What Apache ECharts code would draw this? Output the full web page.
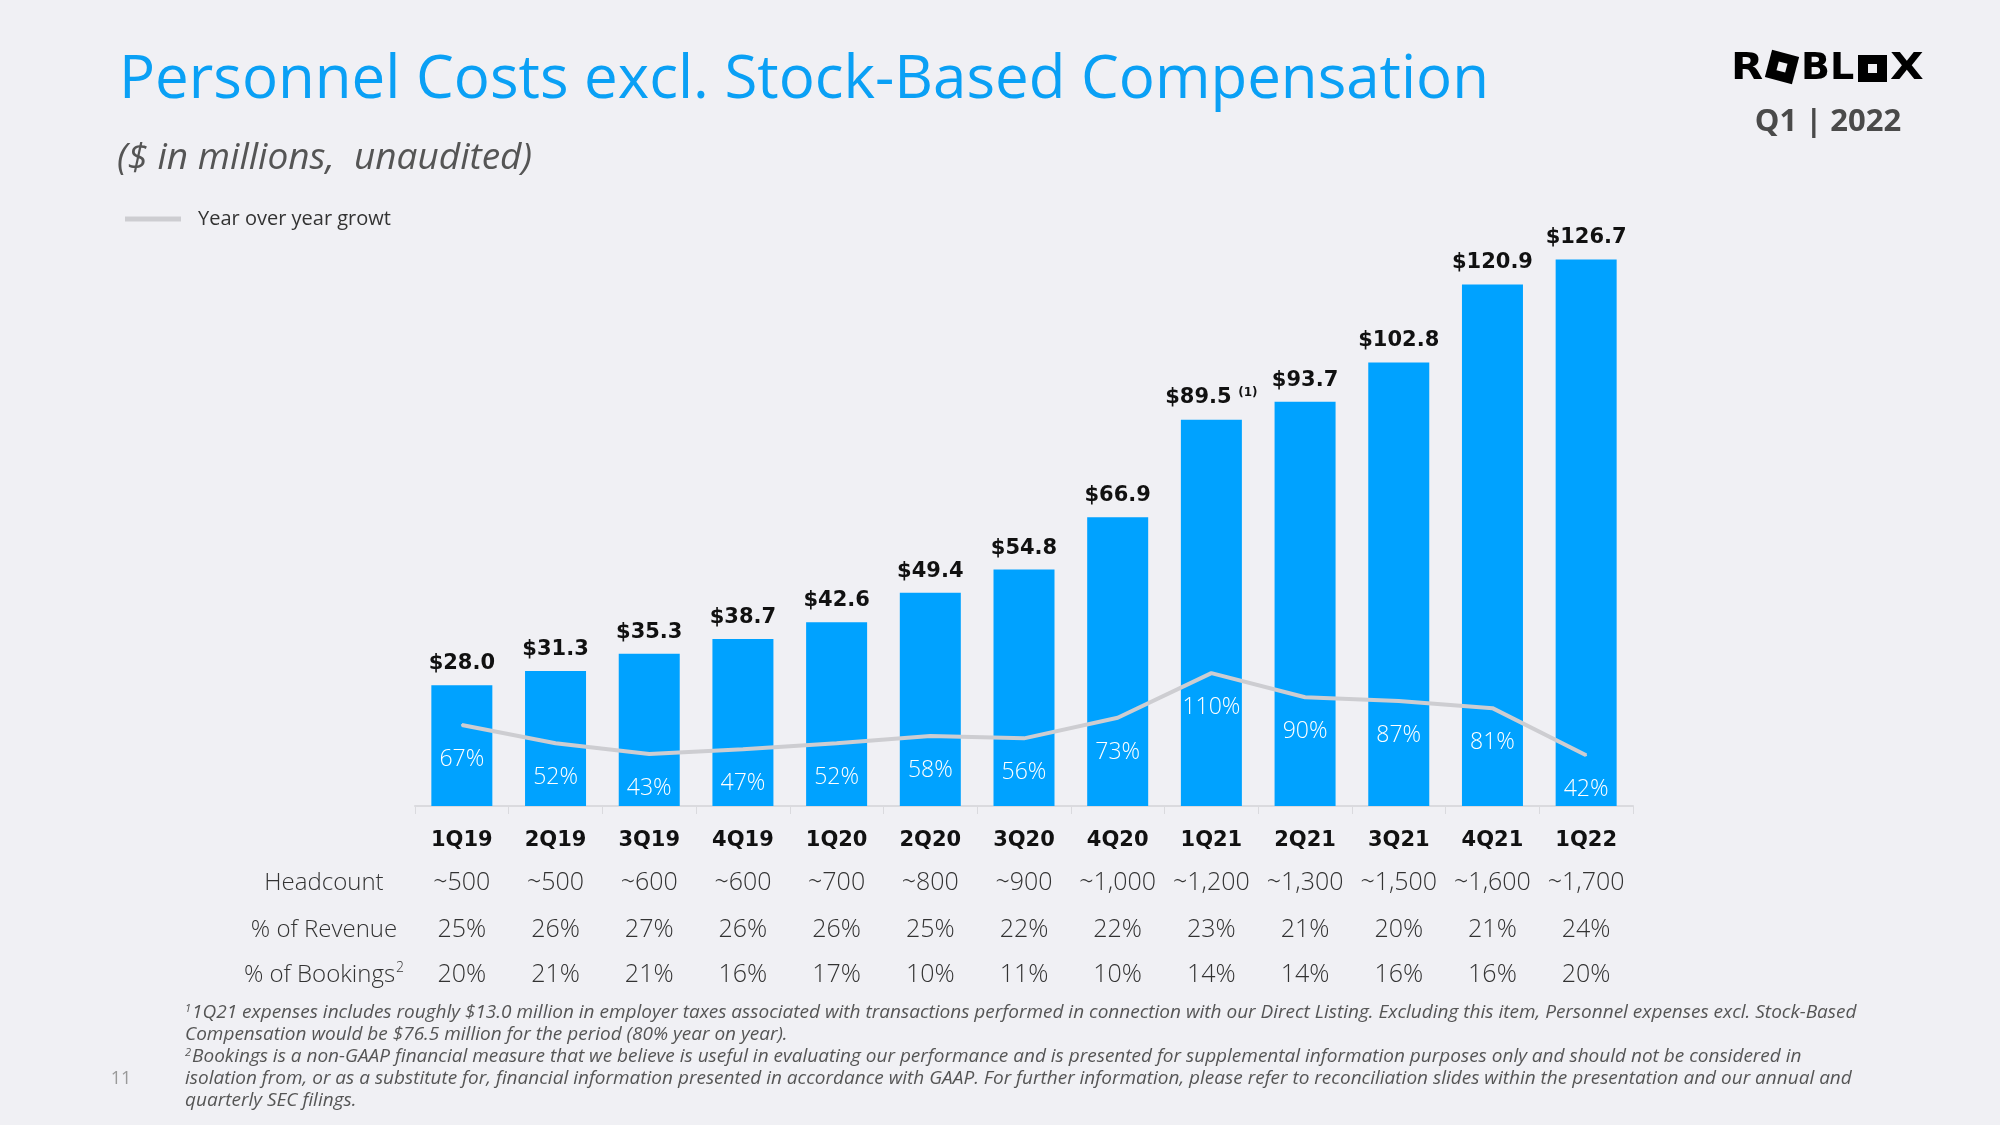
<!DOCTYPE html>
<html>
<head>
<meta charset="utf-8">
<script src="https://cdn.jsdelivr.net/npm/echarts@6/dist/echarts.min.js"></script>
<style>
html,body{margin:0;padding:0;background:#F0F0F4;}
#chart{width:2000px;height:1125px;}
</style>
</head>
<body>
<div id="chart"></div>
<script>
// ---- data ----
const categories = ['1Q19','2Q19','3Q19','4Q19','1Q20','2Q20','3Q20','4Q20','1Q21','2Q21','3Q21','4Q21','1Q22'];
const personnelCosts = [28.0,31.3,35.3,38.7,42.6,49.4,54.8,66.9,89.5,93.7,102.8,120.9,126.7];
const costNotes = ['','','','','','','','','(1)','','','',''];
const yoyGrowth = [67,52,43,47,52,58,56,73,110,90,87,81,42];
const headcount = ['~500','~500','~600','~600','~700','~800','~900','~1,000','~1,200','~1,300','~1,500','~1,600','~1,700'];
const pctRevenue = [25,26,27,26,26,25,22,22,23,21,20,21,24];
const pctBookings = [20,21,21,16,17,10,11,10,14,14,16,16,20];
const rowHeaders = ['Headcount','% of Revenue','% of Bookings'];
const legendName = 'Year over year growt';
const titleText = 'Personnel Costs excl. Stock-Based Compensation';
const subtitleText = '($ in millions,  unaudited)';
const periodText = 'Q1 | 2022';
const footnoteLines = [
  ['1','1Q21 expenses includes roughly $13.0 million in employer taxes associated with transactions performed in connection with our Direct Listing. Excluding this item, Personnel expenses excl. Stock-Based'],
  ['','Compensation would be $76.5 million for the period (80% year on year).'],
  ['2','Bookings is a non-GAAP financial measure that we believe is useful in evaluating our performance and is presented for supplemental information purposes only and should not be considered in'],
  ['','isolation from, or as a substitute for, financial information presented in accordance with GAAP. For further information, please refer to reconciliation slides within the presentation and our annual and'],
  ['','quarterly SEC filings.']
];
const pageNumber = '11';

// ---- style ----
const FONT = '"Open Sans", "Noto Sans", sans-serif';
const BOLD_FONT = '"DejaVu Sans", "Open Sans", sans-serif';
const BLUE = '#00A2FF';
const LINE_GRAY = '#CDCDD1';
const AXIS_GRAY = '#DADADE';

const chart = echarts.init(document.getElementById('chart'), null, {renderer: 'canvas'});

function rowAxis(data, offset) {
  return {
    type: 'category',
    gridIndex: 0,
    position: 'bottom',
    offset: offset,
    data: data,
    axisLine: {show: false},
    axisTick: {show: false},
    splitLine: {show: false},
    axisLabel: {
      interval: 0, margin: 0, verticalAlign: 'middle',
      fontFamily: FONT, fontSize: 25, color: '#333', fontWeight: 300
    }
  };
}

const footGraphics = footnoteLines.map((ln, i) => ({
  type: 'text',
  left: 185,
  top: 1003 + i * 22,
  style: {
    text: ln[0] ? '{sup|' + ln[0] + '}{t|' + ln[1] + '}' : '{t|' + ln[1] + '}',
    rich: {
      t: {fontFamily: FONT, fontStyle: 'italic', fontSize: 19, fill: '#555'},
      sup: {fontFamily: FONT, fontStyle: 'italic', fontSize: 11, fill: '#555', padding: [0, 1, 9, 0]}
    }
  }
}));

const rowHeaderY = [883, 930, 975];
const rowHeaderGraphics = rowHeaders.map((h, i) => ({
  type: 'text',
  x: 324,
  y: rowHeaderY[i],
  style: {
    text: i === 2 ? '{t|' + h + '}{sup|2}' : '{t|' + h + '}',
    align: 'center',
    verticalAlign: 'middle',
    rich: {
      t: {fontFamily: FONT, fontSize: 24, fontWeight: 300, fill: '#333'},
      sup: {fontFamily: FONT, fontSize: 14, fontWeight: 300, fill: '#333', padding: [0, 0, 13, 1]}
    }
  }
}));

const logoGraphics = [
  {type: 'text', x: 1731, y: 69, style: {text: 'R', fontFamily: '"DejaVu Sans"', fontWeight: 'bold', fontSize: 38, fill: '#000', verticalAlign: 'middle'}, scaleX: 1.1},
  {type: 'group', x: 1782, y: 67, rotation: -0.26, children: [
    {type: 'rect', shape: {x: -14, y: -14, width: 28, height: 28}, style: {fill: '#000'}},
    {type: 'rect', shape: {x: -4.5, y: -4.5, width: 9, height: 9}, style: {fill: '#F0F0F4'}}
  ]},
  {type: 'text', x: 1801, y: 69, style: {text: 'BL', fontFamily: '"DejaVu Sans"', fontWeight: 'bold', fontSize: 38, fill: '#000', verticalAlign: 'middle'}},
  {type: 'rect', shape: {x: 1858, y: 55, width: 29, height: 27}, style: {fill: '#000'}},
  {type: 'rect', shape: {x: 1868, y: 64, width: 9, height: 9}, style: {fill: '#F0F0F4'}},
  {type: 'text', x: 1890, y: 69, style: {text: 'X', fontFamily: '"DejaVu Sans"', fontWeight: 'bold', fontSize: 38, fill: '#000', verticalAlign: 'middle'}, scaleX: 1.15}
];

const option = {
  backgroundColor: '#F0F0F4',
  animation: false,
  title: {
    text: titleText,
    left: 114,
    top: 46,
    textStyle: {fontFamily: FONT, fontSize: 60, fontWeight: 'normal', color: '#0AA0F5'}
  },
  legend: {
    data: [legendName],
    left: 120,
    top: 204,
    icon: 'rect',
    itemWidth: 56,
    itemHeight: 5,
    itemGap: 10,
    textStyle: {fontFamily: FONT, fontSize: 20, color: '#333', padding: [0, 0, 0, 12]}
  },
  grid: {left: 415, right: 367, top: 202, bottom: 319, containLabel: false},
  xAxis: [
    {
      type: 'category',
      data: categories,
      position: 'bottom',
      axisLine: {show: true, lineStyle: {color: AXIS_GRAY, width: 2}},
      axisTick: {show: true, length: 8, lineStyle: {color: AXIS_GRAY, width: 1}},
      axisLabel: {
        interval: 0, margin: 35, verticalAlign: 'middle',
        fontFamily: BOLD_FONT, fontWeight: 'bold', fontSize: 21, color: '#111'
      }
    },
    rowAxis(headcount, 77),
    rowAxis(pctRevenue.map(v => v + '%'), 124),
    rowAxis(pctBookings.map(v => v + '%'), 169)
  ],
  yAxis: [
    {type: 'value', min: 0, max: 140, show: false},
    {type: 'value', min: 0, max: 500, show: false}
  ],
  series: [
    {
      name: 'Personnel costs',
      type: 'bar',
      xAxisIndex: 0,
      yAxisIndex: 0,
      data: personnelCosts,
      barWidth: 61,
      itemStyle: {color: BLUE},
      label: {
        show: true,
        position: 'top',
        distance: 11,
        formatter: p => {
          const v = '{v|$' + p.value.toFixed(1) + '}';
          const n = costNotes[p.dataIndex];
          return n ? v + '  {s|' + n + '}' : v;
        },
        rich: {
          v: {fontFamily: BOLD_FONT, fontWeight: 'bold', fontSize: 21, color: '#111'},
          s: {fontFamily: BOLD_FONT, fontWeight: 'bold', fontSize: 12, color: '#111', padding: [0, 0, 10, 0]}
        }
      },
      z: 2
    },
    {
      name: legendName,
      type: 'line',
      xAxisIndex: 0,
      yAxisIndex: 1,
      data: yoyGrowth,
      symbol: 'circle',
      symbolSize: 2,
      itemStyle: {color: LINE_GRAY},
      lineStyle: {color: LINE_GRAY, width: 4},
      label: {
        show: true,
        position: 'bottom',
        distance: 22,
        formatter: '{c}%',
        fontFamily: FONT,
        fontWeight: 300,
        fontSize: 23,
        color: '#FFFFFF'
      },
      z: 3
    }
  ],
  graphic: [
    {
      type: 'text', left: 117, top: 140,
      style: {text: subtitleText, fontFamily: FONT, fontStyle: 'italic', fontSize: 37, fill: '#555'}
    },
    {
      type: 'text', x: 1828, y: 122,
      style: {text: periodText, fontFamily: FONT, fontWeight: 'bold', fontSize: 31, fill: '#4A4A4A', align: 'center', verticalAlign: 'middle'}
    },
    {
      type: 'text', x: 121, y: 1079,
      style: {text: pageNumber, fontFamily: FONT, fontSize: 18, fill: '#999', align: 'center', verticalAlign: 'middle'}
    }
  ].concat(rowHeaderGraphics, footGraphics, logoGraphics)
};

chart.setOption(option);
</script>
</body>
</html>
